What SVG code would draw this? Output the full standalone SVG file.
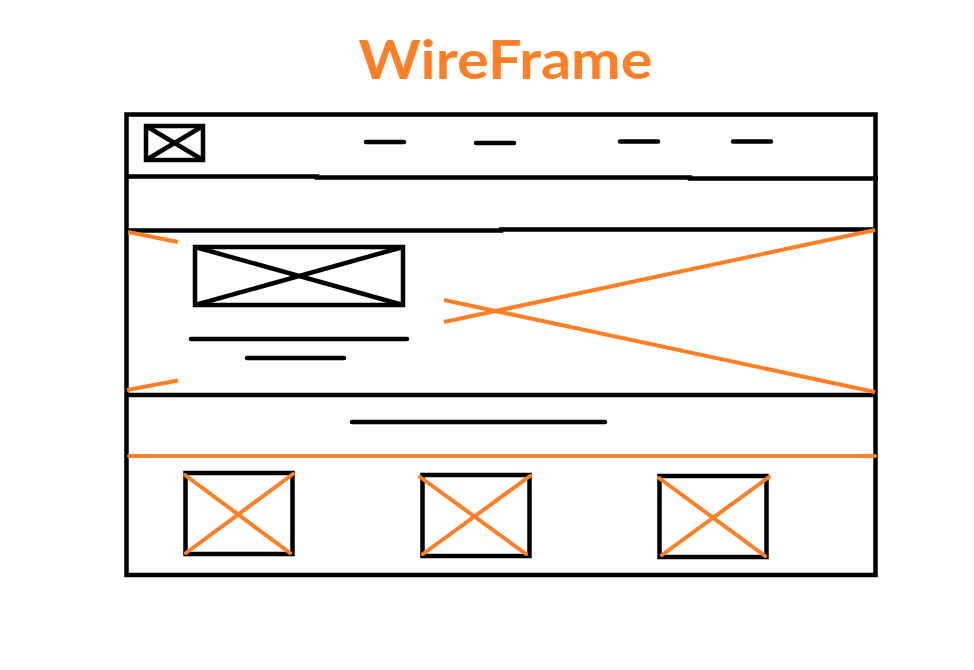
<svg xmlns="http://www.w3.org/2000/svg" width="974" height="670" viewBox="0 0 974 670">
<style>
.k{stroke:#000;fill:none;stroke-width:4.5}
.r{stroke-linecap:round}
.o{stroke:#FF7F27;fill:none;stroke-width:4}
.t{font-family:Lato,"Open Sans","Liberation Sans",sans-serif;font-weight:bold;fill:#FF7F27}
</style>
<rect width="974" height="670" fill="#fff"/>
<text class="t" x="505.5" y="79" font-size="54" text-anchor="middle" textLength="294" lengthAdjust="spacingAndGlyphs">WireFrame</text>
<g id="frame">
<rect class="k" x="126.5" y="114.5" width="749" height="460.5"/>
</g>
<g id="header">
<polyline class="k" points="126,176.5 317,176.5 317,177.5 690,177.5 690,178.5 878,178.5"/>
<g id="logo">
<rect class="k" x="146" y="126" width="57" height="34"/>
<line class="k" x1="146" y1="126" x2="203" y2="160"/>
<line class="k" x1="146" y1="160" x2="203" y2="126"/>
</g>
<g id="nav">
<line class="k r" x1="366" y1="142" x2="404" y2="142"/>
<line class="k r" x1="476" y1="143" x2="514" y2="143"/>
<line class="k r" x1="620" y1="141.5" x2="658" y2="141.5"/>
<line class="k r" x1="733" y1="141.5" x2="771" y2="141.5"/>
</g>
</g>
<g id="hero">
<polyline class="k" points="126,230.5 501,230.5 501,229.5 876,229.5"/>
<line class="k" x1="126" y1="395" x2="876" y2="395"/>
<line class="o" x1="128" y1="232" x2="178" y2="242"/>
<line class="o" x1="127" y1="390" x2="178" y2="380.5"/>
<g id="hero-image">
<rect class="k" x="195" y="247" width="208" height="58"/>
<line class="k" x1="195" y1="247" x2="403" y2="305"/>
<line class="k" x1="195" y1="305" x2="403" y2="247"/>
</g>
<line class="k r" x1="191" y1="339" x2="407" y2="339"/>
<line class="k r" x1="247" y1="358" x2="344" y2="358"/>
<line class="o" x1="444" y1="300" x2="875" y2="392"/>
<line class="o" x1="444" y1="322" x2="875" y2="230"/>
</g>
<g id="section">
<line class="k r" x1="352" y1="422" x2="605" y2="422"/>
<line class="o r" x1="129" y1="456" x2="875" y2="456"/>
</g>
<g id="card1">
<rect class="k" x="185.5" y="473" width="107" height="81"/>
<line class="o r" x1="185" y1="475" x2="290" y2="553"/>
<line class="o r" x1="293" y1="474" x2="186" y2="553"/>
</g>
<g id="card2">
<rect class="k" x="422.5" y="475" width="107" height="81"/>
<line class="o r" x1="420" y1="477" x2="526" y2="554"/>
<line class="o r" x1="530" y1="476" x2="423" y2="554"/>
</g>
<g id="card3">
<rect class="k" x="659.5" y="476" width="107" height="81"/>
<line class="o r" x1="659" y1="478" x2="765" y2="556"/>
<line class="o r" x1="769" y1="477" x2="662" y2="555"/>
</g>
</svg>
